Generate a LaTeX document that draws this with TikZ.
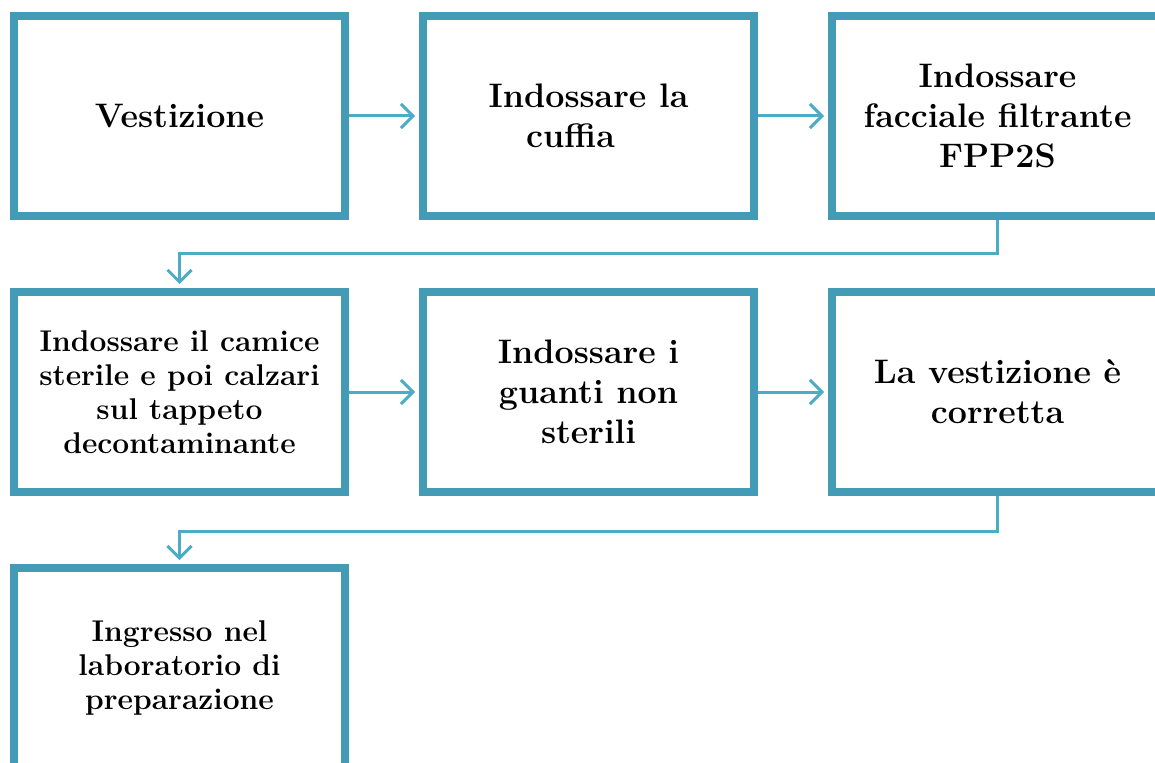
\documentclass[tikz,border=0pt]{standalone}
\usepackage{fontspec}
\usepackage{tikz}
\usetikzlibrary{arrows.meta,positioning}
\definecolor{boxblue}{RGB}{67,155,181}
\definecolor{linkblue}{RGB}{75,172,198}

\begin{document}
\begin{tikzpicture}[x=1pt,y=1pt,>={Straight Barb[length=12pt,width=24pt]},on grid,node distance=276pt and 409pt,
    stepbox/.style={draw=boxblue,line width=8pt,minimum width=331pt,minimum height=200pt,align=center,
      font=\bfseries\fontsize{34}{40}\selectfont},
    smalltext/.style={font=\bfseries\fontsize{30}{34}\selectfont},
    link/.style={->,draw=linkblue,line width=3pt,shorten >=4pt}]
  \useasboundingbox (0,0) rectangle (1155,-762);
  \clip (0,0) rectangle (1155,-762);

  \node[stepbox]            (x1) at (179.5,-116) {Vestizione};
  \node[stepbox]            (x2) [right=of x1] {Indossare la\\cuffia\hspace*{36pt}};
  \node[stepbox]            (x3) [right=of x2] {Indossare\\facciale filtrante\\FPP2S};
  \node[stepbox,smalltext]  (x4) [below=of x1] {Indossare il camice\\sterile e poi calzari\\sul tappeto\\decontaminante};
  \node[stepbox]            (x5) [right=of x4] {Indossare i\\guanti non\\sterili};
  \node[stepbox]            (x6) [right=of x5] {La vestizione è\\corretta};
  \node[stepbox,smalltext]  (x7) [below=of x4] {Ingresso nel\\laboratorio di\\preparazione};

  \draw[link] (x1) -- (x2);
  \draw[link] (x2) -- (x3);
  \draw[link] (x3.south) -- ++(0,-33) -| (x4.north);
  \draw[link] (x4) -- (x5);
  \draw[link] (x5) -- (x6);
  \draw[link] (x6.south) -- ++(0,-35) -| (x7.north);
\end{tikzpicture}
\end{document}
